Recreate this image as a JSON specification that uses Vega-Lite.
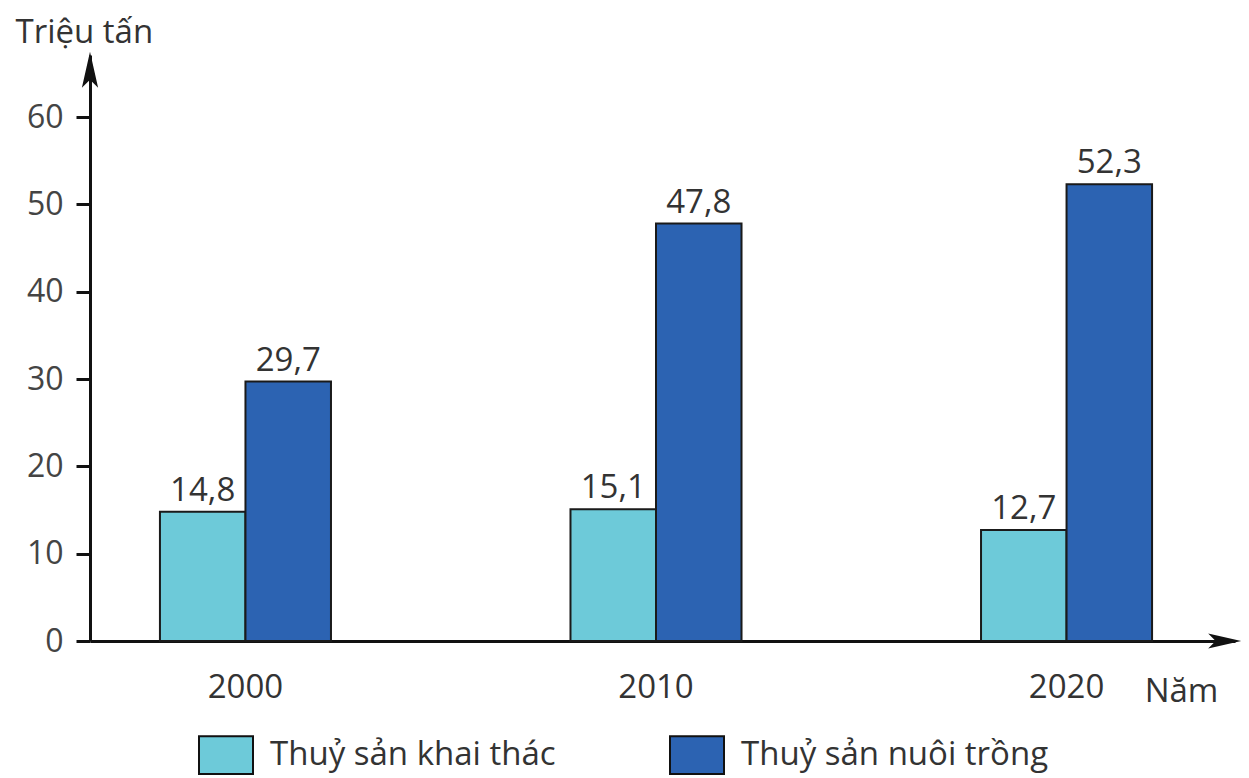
{
  "$schema": "https://vega.github.io/schema/vega-lite/v6.json",
  "autosize": {"type": "none"},
  "padding": {"left": 90, "top": 55, "right": 14, "bottom": 137},
  "width": 1145,
  "height": 586,
  "background": "white",
  "config": {
    "view": {"stroke": null},
    "font": "Open Sans",
    "locale": {"number": {"decimal": ",", "thousands": ".", "grouping": [3], "currency": ["", ""]}}
  },
  "data": {
    "values": [
      {"year": "2000", "type": "Thuỷ sản khai thác", "value": 14.8},
      {"year": "2000", "type": "Thuỷ sản nuôi trồng", "value": 29.7},
      {"year": "2010", "type": "Thuỷ sản khai thác", "value": 15.1},
      {"year": "2010", "type": "Thuỷ sản nuôi trồng", "value": 47.8},
      {"year": "2020", "type": "Thuỷ sản khai thác", "value": 12.7},
      {"year": "2020", "type": "Thuỷ sản nuôi trồng", "value": 52.3}
    ]
  },
  "layer": [
    {
      "layer": [
        {
          "mark": {"type": "bar", "stroke": "#1a1a1a", "strokeWidth": 2},
          "encoding": {
            "x": {
              "field": "year", "type": "nominal",
              "scale": {"paddingInner": 0.5834, "paddingOuter": 0.1862, "align": 0.4575},
              "axis": {
                "title": "Năm", "titleX": 1091, "titleY": 60, "titleAlign": "center", "titleBaseline": "alphabetic",
                "titleFontSize": 33, "titleFontWeight": "normal", "titleColor": "#333",
                "labelAngle": 0, "labelFontSize": 33, "labelColor": "#333", "ticks": false, "labelPadding": 30,
                "domainColor": "#111", "domainWidth": 3
              }
            },
            "xOffset": {"field": "type", "type": "nominal"},
            "y": {
              "field": "value", "type": "quantitative",
              "scale": {"domain": [0, 67.1], "nice": false},
              "axis": {
                "values": [0, 10, 20, 30, 40, 50, 60],
                "title": "Triệu tấn", "titleAngle": 0, "titleX": -75, "titleY": -13, "titleAlign": "left",
                "titleBaseline": "alphabetic", "titleFontSize": 33, "titleFontWeight": "normal", "titleColor": "#333",
                "grid": false, "domainColor": "#111", "domainWidth": 3, "tickColor": "#111", "tickWidth": 3,
                "tickSize": 14, "labelFontSize": 32, "labelColor": "#444", "labelPadding": 13
              }
            },
            "color": {
              "field": "type", "type": "nominal",
              "scale": {"domain": ["Thuỷ sản khai thác", "Thuỷ sản nuôi trồng"], "range": ["#6dcad9", "#2c63b2"]},
              "legend": {
                "orient": "none", "legendX": 108, "legendY": 672, "direction": "horizontal", "title": null,
                "symbolType": "M-1,-0.7H1V0.7H-1Z", "symbolSize": 2916, "symbolStrokeColor": "#111",
                "symbolStrokeWidth": 2, "symbolOpacity": 1, "labelFontSize": 33, "labelColor": "#333",
                "labelOffset": 16, "columnPadding": 110, "labelLimit": 500
              }
            }
          }
        },
        {
          "mark": {"type": "text", "baseline": "alphabetic", "dy": -11, "fontSize": 33, "color": "#333"},
          "encoding": {
            "x": {"field": "year", "type": "nominal"},
            "xOffset": {"field": "type", "type": "nominal"},
            "y": {"field": "value", "type": "quantitative"},
            "text": {"field": "value", "type": "quantitative", "format": ".1f"}
          }
        }
      ]
    },
    {
      "data": {"values": [{}]},
      "mark": {"type": "point", "shape": "M0,-1L0.45,1L0,0.55L-0.45,1Z", "filled": true, "color": "#111", "opacity": 1, "size": 1300},
      "encoding": {
        "x": {"datum": 0, "type": "quantitative", "scale": {"domain": [0, 1]}, "axis": null},
        "y": {"datum": 65.4, "type": "quantitative"}
      }
    },
    {
      "data": {"values": [{}]},
      "mark": {"type": "point", "shape": "M1,0L-1,-0.45L-0.55,0L-1,0.45Z", "filled": true, "color": "#111", "opacity": 1, "size": 1089},
      "encoding": {
        "x": {"datum": 0.991, "type": "quantitative", "scale": {"domain": [0, 1]}, "axis": null},
        "y": {"datum": 0, "type": "quantitative"}
      }
    }
  ],
  "resolve": {"scale": {"x": "independent"}}
}
